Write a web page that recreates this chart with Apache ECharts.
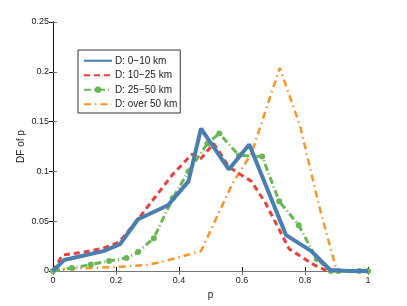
<!DOCTYPE html>
<html><head><meta charset="utf-8">
<script src="https://cdn.jsdelivr.net/npm/echarts@6/dist/echarts.min.js"></script>
<style>html,body{margin:0;padding:0;background:#fff}#c{width:407px;height:306px}</style>
</head><body><div id="c"></div>
<script>
const seriesNames = ['D: 0\u221210 km', 'D: 10\u221225 km', 'D: 25\u221250 km', 'D: over 50 km'];
const d0to10 = [[0,0],[0.035,0.011],[0.16,0.02],[0.213,0.027],[0.27,0.052],[0.365,0.066],[0.43,0.09],[0.47,0.143],[0.558,0.102],[0.623,0.127],[0.74,0.036],[0.82,0.02],[0.88,0.001],[0.94,0],[1.0,0]];
const d10to25 = [[0,0],[0.03,0.016],[0.1,0.019],[0.16,0.023],[0.21,0.029],[0.27,0.052],[0.38,0.097],[0.44,0.117],[0.47,0.113],[0.51,0.128],[0.56,0.104],[0.63,0.09],[0.675,0.068],[0.75,0.022],[0.83,0.006],[0.87,0],[1,0]];
const d25to50 = [[0,0],[0.06,0.003],[0.12,0.0065],[0.178,0.01],[0.233,0.013],[0.27,0.019],[0.32,0.033],[0.38,0.073],[0.43,0.1],[0.49,0.128],[0.528,0.138],[0.59,0.116],[0.664,0.115],[0.718,0.07],[0.78,0.046],[0.837,0.012],[0.882,0],[0.906,0],[0.972,0],[1,0]];
const dOver50 = [[0,0],[0.03,0.002],[0.2,0.004],[0.3,0.006],[0.38,0.012],[0.47,0.02],[0.57,0.088],[0.63,0.118],[0.72,0.204],[0.785,0.145],[0.845,0.065],[0.9,0.001],[0.95,0],[1,0]];
const xTicks = [0, 0.2, 0.4, 0.6, 0.8, 1];
const yTicks = [0, 0.05, 0.1, 0.15, 0.2, 0.25];

const font = 'Liberation Sans, Arial, sans-serif';
const chart = echarts.init(document.getElementById('c'));
const axisBase = (color) => ({
  axisLine: {show: true, lineStyle: {color: color, width: 1}},
  axisTick: {show: true, inside: true, length: 4, lineStyle: {color: color}},
  splitLine: {show: false}
});
chart.setOption({
  animation: false,
  backgroundColor: '#fff',
  grid: {left: 53, right: 39, top: 22, bottom: 35},
  xAxis: [
    Object.assign({type: 'value', min: 0, max: 1, interval: 0.2, position: 'bottom',
      name: 'p', nameLocation: 'middle', nameGap: 17,
      nameTextStyle: {fontFamily: font, fontSize: 10, color: '#222'},
      axisLabel: {fontFamily: font, fontSize: 9, color: '#222', margin: 5,
        formatter: v => String(+v.toFixed(2))}}, axisBase('#111')),
    Object.assign({type: 'value', min: 0, max: 1, interval: 0.2, position: 'top',
      axisLabel: {show: false}}, axisBase('#777'))
  ],
  yAxis: [
    Object.assign({type: 'value', min: 0, max: 0.25, interval: 0.05, position: 'left',
      name: 'DF of p', nameLocation: 'middle', nameGap: 27, nameMoveOverlap: false,
      nameTextStyle: {fontFamily: font, fontSize: 10, color: '#222'},
      axisLabel: {fontFamily: font, fontSize: 9, color: '#222', margin: 4,
        formatter: v => String(+v.toFixed(2))}}, axisBase('#777')),
    Object.assign({type: 'value', min: 0, max: 0.25, interval: 0.05, position: 'right',
      axisLabel: {show: false}}, axisBase('#111'))
  ],
  legend: {
    orient: 'vertical', left: 78, top: 50,
    backgroundColor: '#fff', borderColor: '#333', borderWidth: 1,
    padding: [5, 3, 3, 5], itemGap: 3, itemWidth: 28, itemHeight: 8,
    textStyle: {fontFamily: font, fontSize: 10, color: '#222', padding: [0,0,0,-2], lineHeight: 11.5},
    data: [
      {name: seriesNames[0], itemStyle: {opacity: 0}},
      {name: seriesNames[1], itemStyle: {opacity: 0}},
      {name: seriesNames[2]},
      {name: seriesNames[3], itemStyle: {opacity: 0}}
    ]
  },
  series: [
    {name: seriesNames[0], type: 'line', data: d0to10, symbol: 'none',
      lineStyle: {color: '#4a7db0', width: 4}, itemStyle: {color: '#4a7db0'}, z: 5},
    {name: seriesNames[1], type: 'line', data: d10to25, symbol: 'none',
      lineStyle: {color: '#e8403d', width: 3, type: [6, 4]}, itemStyle: {color: '#e8403d'}, z: 3},
    {name: seriesNames[2], type: 'line', data: d25to50, symbol: 'circle', symbolSize: 6,
      lineStyle: {color: '#6ab654', width: 3, type: [7, 3, 1, 3]}, itemStyle: {color: '#6ab654'}, z: 4},
    {name: seriesNames[3], type: 'line', data: dOver50, symbol: 'none',
      lineStyle: {color: '#f7942c', width: 2.5, type: [7, 4, 1.5, 4]}, itemStyle: {color: '#f7942c'}, z: 2}
  ]
});
</script></body></html>
